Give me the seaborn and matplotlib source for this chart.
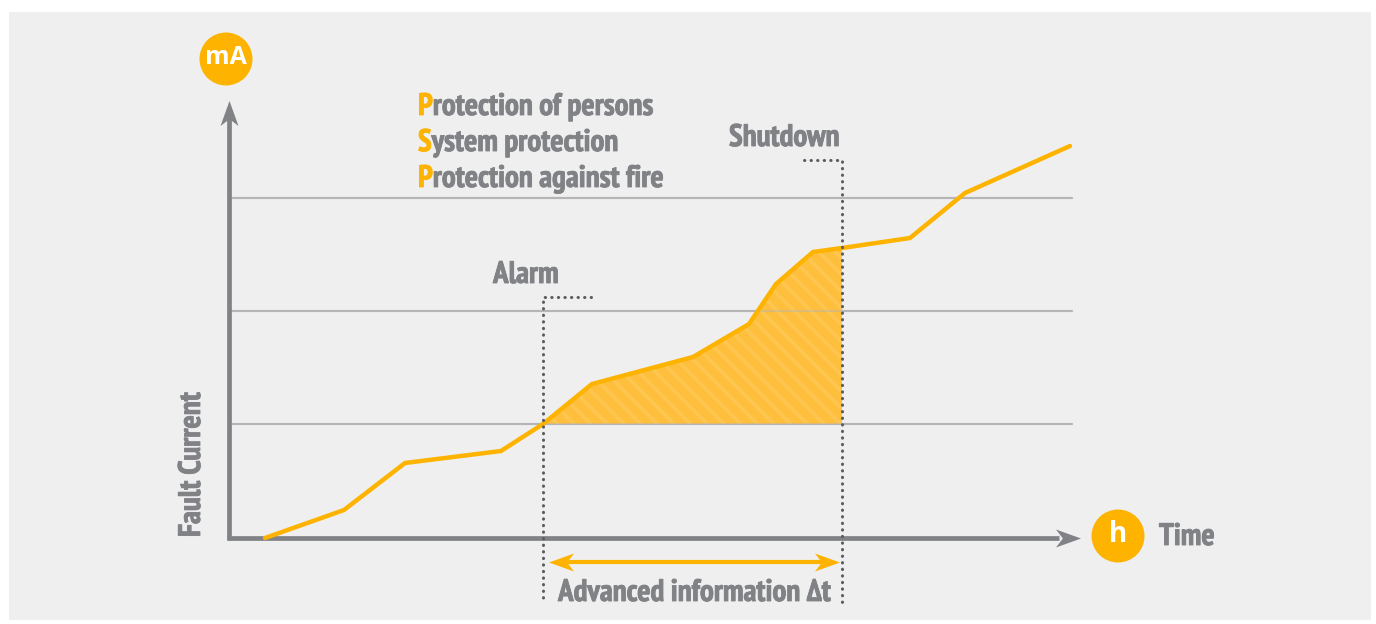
import numpy as np
import pandas as pd
import seaborn as sns
from matplotlib import pyplot as plt
from matplotlib import patheffects as pe
from matplotlib.patches import Circle, Rectangle
from matplotlib.markers import MarkerStyle
from matplotlib.transforms import Affine2D

# values (time / fault current in px from the origin)
time = [36, 115, 176, 272, 314, 363, 464, 520, 547, 584, 613, 681, 736, 841]
current = [0, 28, 75, 87, 114, 154, 181, 214, 254, 286, 290, 300, 345, 392]
thresholds = [114, 227, 340]
alarm_time = 314
shutdown_time = 613
protection = ['Protection of persons', 'System protection', 'Protection against fire']

ORANGE = '#FDB300'
GREY = '#808285'
DOTS = '#5A5C5E'

sns.set_theme(style='white')
plt.rcParams['font.family'] = ['PT Sans Narrow', 'Liberation Sans', 'DejaVu Sans']
plt.rcParams['font.weight'] = 'bold'
plt.rcParams['hatch.linewidth'] = 2.6

fig = plt.figure(figsize=(13.76, 6.24), dpi=100, facecolor='white')
ax = fig.add_axes([0, 0, 1, 1])

ax.add_patch(Rectangle((-220, -82), 1362, 608, fc='#EFEFEF', ec='none', zorder=0))

# threshold lines
for t in thresholds:
    ax.plot([0, 843], [t, t], color='#B4B5B6', lw=1.5, zorder=1)

# shaded advance information area
df = pd.DataFrame({'time': time, 'current': current})
span = df[(df.time >= alarm_time) & (df.time <= shutdown_time)]
ax.fill_between(span.time, span.current, thresholds[0], fc='#FDBF3C', ec='#FEC650', lw=0,
                hatch='\\\\', zorder=2)

for t in thresholds:
    ax.plot([0, 843], [t, t], color='#B4B5B6', lw=1.5, alpha=0.45, zorder=3)

sns.lineplot(data=df, x='time', y='current', color=ORANGE, lw=3.2, ax=ax, zorder=5,
             estimator=None, sort=False, solid_joinstyle='miter')
ax.set_xlim(-229, 1147)
ax.set_ylim(-86, 538)
ax.axis('off')

# dotted leaders
dot = dict(color=DOTS, lw=2.2, ls=(0, (0.1, 2.05)), dash_capstyle='round', zorder=6)
ax.plot([362, 314, 314], [241, 241, -64], **dot)
ax.plot([575, 613, 613], [378, 378, -64], **dot)


# arrow heads are a stealth marker pointing right, rotated as needed
def head(x, y, angle, color, size):
    verts = [(1, 0), (-1, 0.72), (-0.45, 0), (-1, -0.72), (1, 0)]
    m = MarkerStyle(verts, transform=Affine2D().rotate_deg(angle))
    ax.plot([x], [y], marker=m, ms=size, color=color, mec=color, mew=0, ls='none', zorder=7)


ax.plot([0, 0], [-2, 420], color=GREY, lw=3.4, zorder=4, solid_capstyle='butt')
head(0, 425.5, 90, GREY, 18)
ax.plot([-2, 830], [0, 0], color=GREY, lw=3.4, zorder=4, solid_capstyle='butt')
head(838.5, 0, 0, GREY, 18)

ax.plot([330, 598], [-24, -24], color=ORANGE, lw=3, zorder=7, solid_capstyle='butt')
head(331.5, -24, 180, ORANGE, 18)
head(597.5, -24, 0, ORANGE, 18)

# unit badges
ax.add_patch(Circle((-3, 479), 26.5, fc=ORANGE, ec='none', zorder=8))
ax.add_patch(Circle((889, 2), 26.5, fc=ORANGE, ec='none', zorder=8))
ax.text(-3, 480, 'mA', color='white', fontsize=18, ha='center', va='center', zorder=9,
        family=['Open Sans', 'DejaVu Sans'])
ax.text(889, 3, 'h', color='white', fontsize=20, ha='center', va='center', zorder=9,
        family=['Open Sans', 'DejaVu Sans'])

# labels, the narrow bold face needs a thin stroke to get as heavy as the original
size = 22.4
heavy = [pe.withStroke(linewidth=0.6, foreground=GREY)]
for label, base in zip(protection, [423, 387, 351]):
    first = ax.text(189, base, label[0], color=ORANGE, fontsize=size, va='baseline',
                    path_effects=[pe.withStroke(linewidth=0.6, foreground=ORANGE)])
    ax.annotate(label[1:], xy=(1, 0), xycoords=first, color=GREY, fontsize=size, va='bottom',
                path_effects=heavy)
ax.text(500, 392, 'Shutdown', color=GREY, fontsize=size, va='baseline', path_effects=heavy)
ax.text(264, 255, 'Alarm', color=GREY, fontsize=size, va='baseline', path_effects=heavy)
ax.text(329, -63, 'Advanced information Δt', color=GREY, fontsize=size, va='baseline',
        path_effects=heavy)
ax.text(930, 1, 'Time', color=GREY, fontsize=size, va='center', path_effects=heavy)
ax.text(-37, 1, 'Fault Current', color=GREY, fontsize=size, rotation=90, ha='center', va='bottom',
        path_effects=heavy)

fig.savefig('out.png', dpi=100, facecolor='white')
